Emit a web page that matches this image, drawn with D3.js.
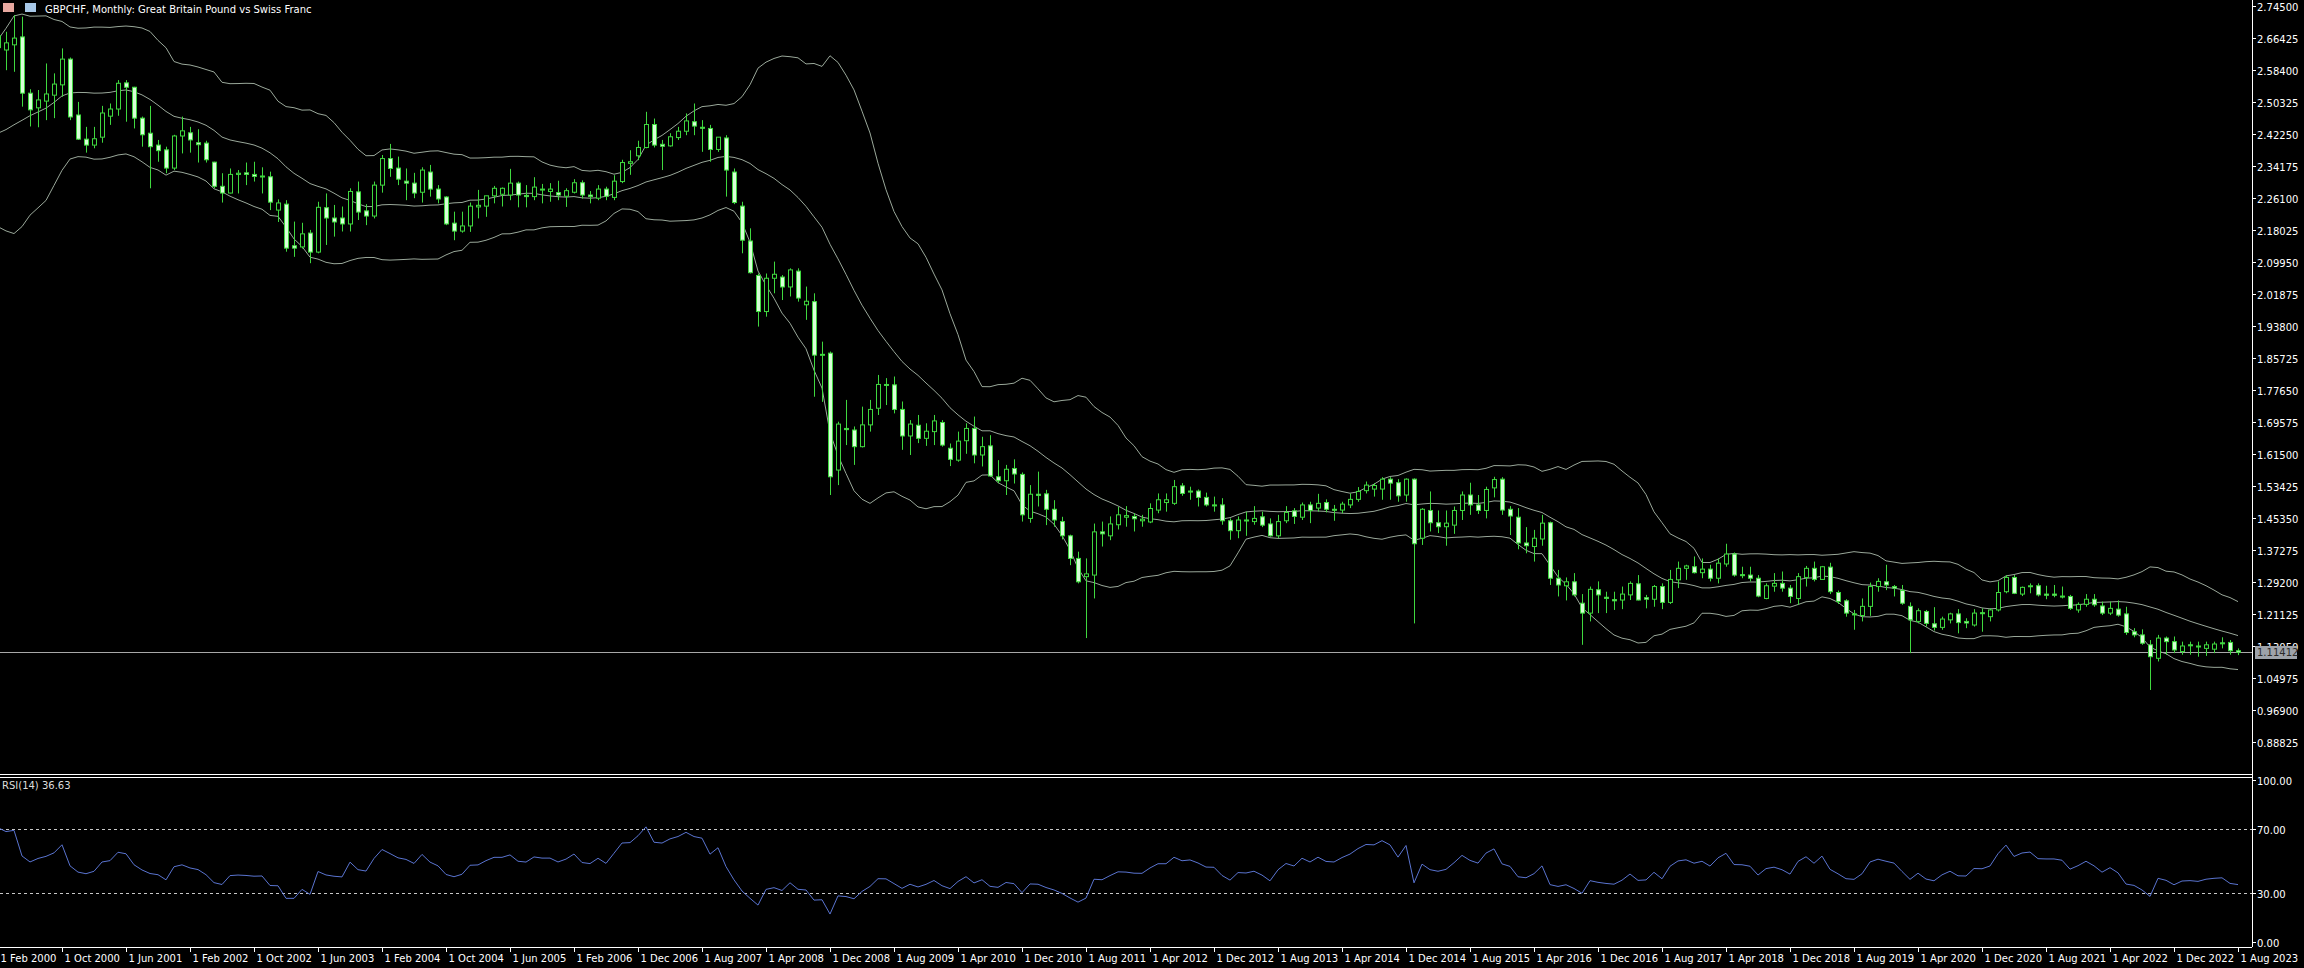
<!DOCTYPE html>
<html>
<head>
<meta charset="utf-8">
<script src="https://cdn.jsdelivr.net/npm/d3@7"></script>
<style>
  html, body { margin: 0; padding: 0; background: #000; overflow: hidden; }
  svg { display: block; }
  text { font-family: "DejaVu Sans", sans-serif; }
</style>
</head>
<body>
<div id="chart"></div>
<script>
// chart values
const title = "GBPCHF, Monthly:  Great Britain Pound vs Swiss Franc";
const rsiTitle = "RSI(14) 36.63";
const lastPrice = 1.11412;

// closes before Feb 2000, only used to warm up the indicators
const warmupCloses = [2.43, 2.36, 2.35, 2.43, 2.40, 2.38, 2.43, 2.46, 2.52, 2.49,
  2.48, 2.47, 2.42, 2.30, 2.25, 2.32, 2.33, 2.26, 2.28, 2.32,
  2.38, 2.40, 2.44, 2.47, 2.45, 2.47, 2.50, 2.55, 2.58, 2.62];

// monthly bars [open, high, low, close]
const bars = [
  [2.640,2.690,2.620,2.670],[2.634,2.680,2.583,2.652],[2.647,2.722,2.579,2.664],[2.667,2.718,2.491,2.525],[2.525,2.535,2.441,2.483],
  [2.488,2.533,2.439,2.508],[2.505,2.600,2.457,2.523],[2.520,2.575,2.462,2.548],[2.546,2.638,2.516,2.611],[2.611,2.615,2.457,2.465],
  [2.470,2.503,2.407,2.409],[2.409,2.440,2.375,2.394],[2.394,2.440,2.386,2.410],[2.414,2.493,2.400,2.475],[2.467,2.499,2.445,2.485],
  [2.485,2.558,2.468,2.550],[2.551,2.558,2.453,2.540],[2.540,2.541,2.436,2.462],[2.462,2.466,2.390,2.420],[2.424,2.493,2.285,2.390],
  [2.394,2.407,2.352,2.380],[2.382,2.390,2.323,2.336],[2.336,2.420,2.331,2.417],[2.417,2.466,2.373,2.430],[2.425,2.440,2.375,2.407],
  [2.400,2.434,2.350,2.395],[2.399,2.405,2.350,2.357],[2.351,2.352,2.285,2.290],[2.290,2.323,2.249,2.273],[2.273,2.335,2.272,2.320],
  [2.320,2.331,2.272,2.323],[2.324,2.350,2.293,2.320],[2.320,2.352,2.302,2.315],[2.315,2.338,2.272,2.316],[2.314,2.327,2.230,2.250],
  [2.230,2.257,2.200,2.248],[2.245,2.255,2.125,2.134],[2.140,2.201,2.112,2.134],[2.137,2.198,2.133,2.170],[2.172,2.180,2.096,2.124],
  [2.124,2.251,2.121,2.237],[2.236,2.272,2.142,2.210],[2.210,2.243,2.163,2.200],[2.210,2.239,2.176,2.195],[2.195,2.285,2.176,2.277],
  [2.276,2.302,2.205,2.225],[2.228,2.245,2.192,2.215],[2.215,2.302,2.209,2.293],[2.293,2.369,2.274,2.360],[2.360,2.397,2.314,2.335],
  [2.336,2.365,2.293,2.308],[2.303,2.335,2.255,2.298],[2.298,2.324,2.260,2.273],[2.275,2.338,2.249,2.331],[2.326,2.344,2.264,2.283],
  [2.283,2.293,2.247,2.258],[2.263,2.265,2.192,2.195],[2.197,2.226,2.154,2.177],[2.177,2.226,2.173,2.190],[2.190,2.249,2.175,2.240],
  [2.238,2.281,2.209,2.242],[2.240,2.266,2.213,2.266],[2.266,2.291,2.247,2.285],[2.270,2.287,2.239,2.285],[2.268,2.334,2.255,2.298],
  [2.298,2.302,2.237,2.268],[2.267,2.293,2.237,2.264],[2.264,2.313,2.255,2.288],[2.281,2.296,2.247,2.283],[2.277,2.298,2.251,2.283],
  [2.274,2.304,2.255,2.268],[2.265,2.285,2.238,2.279],[2.275,2.308,2.272,2.299],[2.299,2.305,2.259,2.268],[2.268,2.278,2.247,2.264],
  [2.260,2.293,2.255,2.283],[2.283,2.289,2.255,2.265],[2.262,2.318,2.255,2.303],[2.302,2.357,2.298,2.350],[2.348,2.381,2.319,2.352],
  [2.367,2.405,2.356,2.388],[2.388,2.478,2.386,2.446],[2.446,2.461,2.388,2.394],[2.396,2.407,2.331,2.391],[2.392,2.424,2.390,2.415],
  [2.413,2.440,2.407,2.429],[2.429,2.474,2.419,2.455],[2.453,2.499,2.419,2.442],[2.439,2.457,2.377,2.437],[2.436,2.445,2.352,2.383],
  [2.383,2.414,2.377,2.414],[2.412,2.419,2.264,2.331],[2.326,2.335,2.245,2.249],[2.240,2.251,2.121,2.154],[2.152,2.184,2.070,2.072],
  [2.065,2.070,1.936,1.974],[1.974,2.070,1.961,2.058],[2.058,2.100,2.020,2.068],[2.061,2.066,2.003,2.036],[2.036,2.083,2.012,2.079],
  [2.076,2.083,1.999,2.008],[1.991,2.037,1.953,2.000],[1.999,2.020,1.759,1.864],[1.864,1.898,1.746,1.866],[1.869,1.873,1.511,1.557],
  [1.574,1.696,1.536,1.690],[1.679,1.751,1.637,1.676],[1.675,1.684,1.587,1.633],[1.633,1.734,1.631,1.688],[1.688,1.751,1.671,1.727],
  [1.730,1.814,1.713,1.790],[1.790,1.806,1.738,1.788],[1.789,1.810,1.717,1.727],[1.727,1.747,1.625,1.660],[1.660,1.700,1.612,1.690],
  [1.687,1.713,1.642,1.654],[1.654,1.692,1.635,1.672],[1.671,1.713,1.637,1.698],[1.694,1.700,1.633,1.637],[1.629,1.641,1.584,1.601],
  [1.599,1.671,1.595,1.647],[1.648,1.692,1.615,1.679],[1.679,1.709,1.591,1.612],[1.612,1.658,1.583,1.633],[1.635,1.662,1.557,1.559],
  [1.557,1.599,1.541,1.547],[1.547,1.587,1.511,1.576],[1.578,1.601,1.540,1.564],[1.563,1.568,1.444,1.461],[1.452,1.536,1.441,1.513],
  [1.513,1.570,1.482,1.510],[1.514,1.524,1.435,1.475],[1.475,1.498,1.431,1.448],[1.444,1.456,1.399,1.408],[1.408,1.411,1.334,1.351],
  [1.351,1.368,1.288,1.292],[1.305,1.351,1.150,1.312],[1.309,1.439,1.250,1.418],[1.418,1.444,1.381,1.413],[1.408,1.457,1.397,1.438],
  [1.436,1.481,1.424,1.461],[1.455,1.483,1.431,1.459],[1.457,1.465,1.419,1.451],[1.446,1.461,1.431,1.450],[1.443,1.490,1.440,1.477],
  [1.473,1.515,1.465,1.499],[1.492,1.515,1.469,1.499],[1.490,1.549,1.486,1.532],[1.534,1.541,1.509,1.515],[1.521,1.532,1.499,1.519],
  [1.521,1.525,1.482,1.505],[1.505,1.517,1.482,1.486],[1.486,1.507,1.469,1.485],[1.486,1.503,1.436,1.446],[1.446,1.452,1.398,1.421],
  [1.421,1.457,1.402,1.448],[1.448,1.469,1.408,1.446],[1.444,1.483,1.436,1.452],[1.456,1.469,1.430,1.435],[1.438,1.452,1.406,1.408],
  [1.408,1.461,1.402,1.444],[1.446,1.483,1.440,1.467],[1.471,1.478,1.438,1.457],[1.455,1.492,1.448,1.486],[1.486,1.494,1.440,1.472],
  [1.478,1.514,1.469,1.490],[1.492,1.500,1.467,1.475],[1.475,1.486,1.446,1.473],[1.473,1.494,1.465,1.488],[1.486,1.515,1.478,1.500],
  [1.500,1.531,1.494,1.520],[1.522,1.545,1.515,1.536],[1.526,1.541,1.507,1.535],[1.526,1.556,1.499,1.551],[1.551,1.556,1.499,1.541],
  [1.542,1.551,1.494,1.509],[1.511,1.553,1.494,1.551],[1.551,1.553,1.187,1.388],[1.402,1.478,1.385,1.475],[1.472,1.520,1.419,1.441],
  [1.441,1.472,1.415,1.431],[1.431,1.472,1.383,1.440],[1.435,1.482,1.413,1.472],[1.472,1.520,1.448,1.511],[1.511,1.542,1.461,1.486],
  [1.486,1.511,1.463,1.472],[1.472,1.532,1.452,1.525],[1.529,1.557,1.505,1.550],[1.551,1.556,1.461,1.473],[1.475,1.483,1.410,1.458],
  [1.455,1.478,1.374,1.390],[1.390,1.430,1.364,1.383],[1.381,1.423,1.343,1.402],[1.400,1.461,1.383,1.440],[1.441,1.444,1.284,1.301],
  [1.301,1.322,1.255,1.284],[1.282,1.303,1.245,1.292],[1.292,1.314,1.255,1.259],[1.238,1.261,1.133,1.213],[1.213,1.280,1.192,1.273],
  [1.272,1.293,1.213,1.259],[1.253,1.267,1.213,1.250],[1.247,1.267,1.221,1.244],[1.246,1.280,1.223,1.261],[1.259,1.293,1.246,1.288],
  [1.287,1.309,1.245,1.246],[1.252,1.259,1.225,1.248],[1.248,1.284,1.229,1.280],[1.280,1.288,1.223,1.240],[1.240,1.322,1.236,1.298],
  [1.297,1.343,1.276,1.326],[1.326,1.335,1.297,1.332],[1.330,1.356,1.313,1.315],[1.315,1.351,1.301,1.324],[1.324,1.335,1.293,1.301],
  [1.301,1.351,1.288,1.339],[1.337,1.388,1.330,1.362],[1.362,1.366,1.305,1.309],[1.310,1.330,1.301,1.308],[1.309,1.330,1.293,1.301],
  [1.301,1.309,1.253,1.256],[1.250,1.288,1.248,1.282],[1.281,1.314,1.267,1.288],[1.288,1.318,1.267,1.276],[1.276,1.284,1.238,1.255],
  [1.250,1.314,1.234,1.305],[1.303,1.332,1.280,1.326],[1.326,1.343,1.293,1.298],[1.298,1.332,1.297,1.330],[1.329,1.340,1.261,1.267],
  [1.265,1.270,1.236,1.242],[1.244,1.248,1.204,1.213],[1.211,1.221,1.171,1.209],[1.207,1.250,1.192,1.230],[1.230,1.290,1.206,1.280],
  [1.280,1.301,1.267,1.293],[1.292,1.335,1.271,1.284],[1.280,1.284,1.255,1.276],[1.270,1.284,1.234,1.238],[1.230,1.240,1.112,1.196],
  [1.192,1.225,1.187,1.219],[1.217,1.221,1.179,1.187],[1.186,1.228,1.169,1.177],[1.177,1.204,1.171,1.198],[1.196,1.214,1.187,1.211],
  [1.211,1.223,1.162,1.189],[1.192,1.200,1.175,1.188],[1.183,1.223,1.179,1.213],[1.214,1.225,1.166,1.212],[1.204,1.225,1.192,1.221],
  [1.221,1.293,1.217,1.265],[1.267,1.309,1.263,1.303],[1.303,1.309,1.261,1.263],[1.261,1.280,1.256,1.278],[1.280,1.288,1.263,1.282],
  [1.282,1.288,1.255,1.259],[1.261,1.282,1.248,1.258],[1.261,1.284,1.253,1.258],[1.256,1.280,1.250,1.254],[1.255,1.259,1.221,1.225],
  [1.221,1.240,1.214,1.235],[1.235,1.261,1.229,1.248],[1.248,1.261,1.229,1.234],[1.231,1.242,1.208,1.213],[1.213,1.242,1.208,1.225],
  [1.223,1.245,1.204,1.208],[1.211,1.229,1.158,1.164],[1.166,1.175,1.152,1.158],[1.158,1.172,1.133,1.137],[1.133,1.145,1.019,1.103],
  [1.099,1.158,1.091,1.150],[1.150,1.154,1.108,1.141],[1.141,1.154,1.112,1.120],[1.116,1.141,1.108,1.130],[1.133,1.141,1.108,1.131],
  [1.130,1.141,1.103,1.128],[1.124,1.141,1.105,1.133],[1.122,1.141,1.112,1.135],[1.138,1.152,1.124,1.136],[1.139,1.145,1.108,1.118],
  [1.118,1.124,1.107,1.114]
];

const priceTicks = [2.745, 2.66425, 2.5835, 2.50275, 2.422, 2.34125, 2.2605, 2.17975, 2.099, 2.01825,
  1.9375, 1.85675, 1.776, 1.69525, 1.6145, 1.53375, 1.453, 1.37225, 1.2915, 1.21075, 1.13, 1.04925, 0.9685, 0.88775];
const priceTickLabels = ["2.74500", "2.66425", "2.58400", "2.50325", "2.42250", "2.34175", "2.26100", "2.18025",
  "2.09950", "2.01875", "1.93800", "1.85725", "1.77650", "1.69575", "1.61500", "1.53425", "1.45350", "1.37275",
  "1.29200", "1.21125", "1.13050", "1.04975", "0.96900", "0.88825"];
const rsiTicks = [100, 70, 30, 0];
const rsiTickLabels = ["100.00", "70.00", "30.00", "0.00"];
const dateLabels = ["1 Feb 2000", "1 Oct 2000", "1 Jun 2001", "1 Feb 2002", "1 Oct 2002", "1 Jun 2003",
  "1 Feb 2004", "1 Oct 2004", "1 Jun 2005", "1 Feb 2006", "1 Dec 2006", "1 Aug 2007", "1 Apr 2008",
  "1 Dec 2008", "1 Aug 2009", "1 Apr 2010", "1 Dec 2010", "1 Aug 2011", "1 Apr 2012", "1 Dec 2012",
  "1 Aug 2013", "1 Apr 2014", "1 Dec 2014", "1 Aug 2015", "1 Apr 2016", "1 Dec 2016", "1 Aug 2017",
  "1 Apr 2018", "1 Dec 2018", "1 Aug 2019", "1 Apr 2020", "1 Dec 2020", "1 Aug 2021", "1 Apr 2022",
  "1 Dec 2022", "1 Aug 2023"];
const labelEvery = 8;

const width = 2304, height = 968;
const plotRight = 2252;
const priceBottom = 773;
const rsiTop = 780, rsiBottom = 942;
const timeAxisY = 947;

const svg = d3.select("#chart").append("svg")
  .attr("width", width).attr("height", height)
  .style("background", "#000");

const x = d3.scaleLinear().domain([0, bars.length - 1]).range([-2, 2238]);
const y = d3.scaleLinear().domain([0.88775, 2.745]).range([742, 6]);
const yr = d3.scaleLinear().domain([0, 100]).range([rsiBottom, rsiTop]);

svg.append("defs").append("clipPath").attr("id", "pc")
  .append("rect").attr("x", 0).attr("y", 0).attr("width", plotRight).attr("height", priceBottom);
svg.select("defs").append("clipPath").attr("id", "rc")
  .append("rect").attr("x", 0).attr("y", rsiTop - 4).attr("width", plotRight).attr("height", rsiBottom - rsiTop + 4);

// indicators from closes (warm-up + visible)
const closes = warmupCloses.concat(bars.map(d => d[3]));
const off = warmupCloses.length;
const bands = bars.map((d, i) => {
  const w = closes.slice(off + i - 19, off + i + 1);
  const m = d3.mean(w);
  const sd = Math.sqrt(d3.mean(w, v => (v - m) * (v - m)));
  return { i, mid: m, up: m + 2 * sd, lo: m - 2 * sd };
});
const rsi = [];
let ag = 0, al = 0;
for (let k = 1; k < closes.length; k++) {
  const ch = closes[k] - closes[k - 1];
  const g = Math.max(ch, 0), l = Math.max(-ch, 0);
  if (k <= 14) { ag += g / 14; al += l / 14; }
  else { ag = (ag * 13 + g) / 14; al = (al * 13 + l) / 14; }
  if (k >= off) rsi.push({ i: k - off, v: al === 0 ? 100 : 100 - 100 / (1 + ag / al) });
}

const price = svg.append("g").attr("clip-path", "url(#pc)");

// bollinger bands
["up", "mid", "lo"].forEach(key => {
  price.append("path").datum(bands)
    .attr("fill", "none").attr("stroke", "#9aa89a").attr("stroke-width", 1)
    .attr("d", d3.line().x(d => x(d.i)).y(d => y(d[key])));
});

// last price line
price.append("line")
  .attr("x1", 0).attr("x2", plotRight)
  .attr("y1", Math.round(y(lastPrice)) + 0.5).attr("y2", Math.round(y(lastPrice)) + 0.5)
  .attr("stroke", "#a8a8a8");

// candles
const candle = price.selectAll("g.c").data(bars).enter().append("g").attr("class", "c");
candle.append("line")
  .attr("x1", (d, i) => Math.round(x(i)) + 0.5).attr("x2", (d, i) => Math.round(x(i)) + 0.5)
  .attr("y1", d => y(d[1])).attr("y2", d => y(d[2]))
  .attr("stroke", "#3fd83f");
candle.append("rect")
  .attr("x", (d, i) => Math.round(x(i)) - 2 + 0.5)
  .attr("y", d => y(Math.max(d[0], d[3])))
  .attr("width", 4)
  .attr("height", d => Math.max(1, Math.abs(y(d[0]) - y(d[3]))))
  .attr("fill", d => d[3] >= d[0] ? "#000" : "#d8ffd8")
  .attr("stroke", "#3fd83f");

// RSI panel
const rsiG = svg.append("g").attr("clip-path", "url(#rc)");
[70, 30].forEach(v => {
  rsiG.append("line").attr("x1", 0).attr("x2", plotRight)
    .attr("y1", Math.round(yr(v)) + 0.5).attr("y2", Math.round(yr(v)) + 0.5)
    .attr("stroke", "#c8c8c8").attr("stroke-dasharray", "3,3");
});
rsiG.append("path").datum(rsi)
  .attr("fill", "none").attr("stroke", "#5a74d0").attr("stroke-width", 1)
  .attr("d", d3.line().x(d => x(d.i)).y(d => yr(d.v)));

// frame lines
svg.append("line").attr("x1", plotRight + 0.5).attr("x2", plotRight + 0.5).attr("y1", 0).attr("y2", timeAxisY)
  .attr("stroke", "#fff");
[774.5, 777.5].forEach(v => svg.append("line").attr("x1", 0).attr("x2", plotRight).attr("y1", v).attr("y2", v).attr("stroke", "#fff"));
svg.append("line").attr("x1", 0).attr("x2", plotRight).attr("y1", timeAxisY + 0.5).attr("y2", timeAxisY + 0.5).attr("stroke", "#fff");

// price axis
const pa = svg.append("g");
priceTicks.forEach((v, k) => {
  const yy = Math.round(y(v)) + 0.5;
  pa.append("line").attr("x1", plotRight).attr("x2", plotRight + 4).attr("y1", yy).attr("y2", yy).attr("stroke", "#fff");
  pa.append("text").attr("x", plotRight + 5).attr("y", yy + 4)
    .attr("fill", "#fff").attr("font-size", 10).text(priceTickLabels[k]);
});
const ly = Math.round(y(lastPrice));
pa.append("rect").attr("x", plotRight + 3).attr("y", ly - 6).attr("width", 42).attr("height", 13).attr("fill", "#9ea3aa");
pa.append("text").attr("x", plotRight + 5).attr("y", ly + 4).attr("fill", "#2a2a2a").attr("font-size", 10)
  .text(lastPrice.toFixed(5));

// RSI axis
rsiTicks.forEach((v, k) => {
  const yy = Math.round(yr(v)) + 0.5;
  pa.append("line").attr("x1", plotRight).attr("x2", plotRight + 4).attr("y1", yy).attr("y2", yy).attr("stroke", "#fff");
  pa.append("text").attr("x", plotRight + 5).attr("y", yy + 4)
    .attr("fill", "#fff").attr("font-size", 10).text(rsiTickLabels[k]);
});

// time axis
dateLabels.forEach((lab, k) => {
  const xx = Math.round(x(k * labelEvery)) + 0.5;
  svg.append("line").attr("x1", xx).attr("x2", xx).attr("y1", timeAxisY).attr("y2", timeAxisY + 5).attr("stroke", "#fff");
  svg.append("text").attr("x", xx + 2).attr("y", 962).attr("fill", "#fff").attr("font-size", 10).text(lab);
});

// header
svg.append("rect").attr("x", 3).attr("y", 3).attr("width", 11).attr("height", 9).attr("fill", "#e8a8a0");
svg.append("rect").attr("x", 25).attr("y", 3).attr("width", 11).attr("height", 9).attr("fill", "#a8c8e8");
svg.append("text").attr("x", 45).attr("y", 13).attr("fill", "#fff").attr("font-size", 10).text(title);
svg.append("text").attr("x", 2).attr("y", 789).attr("fill", "#ddd").attr("font-size", 10).text(rsiTitle);
</script>
</body>
</html>
